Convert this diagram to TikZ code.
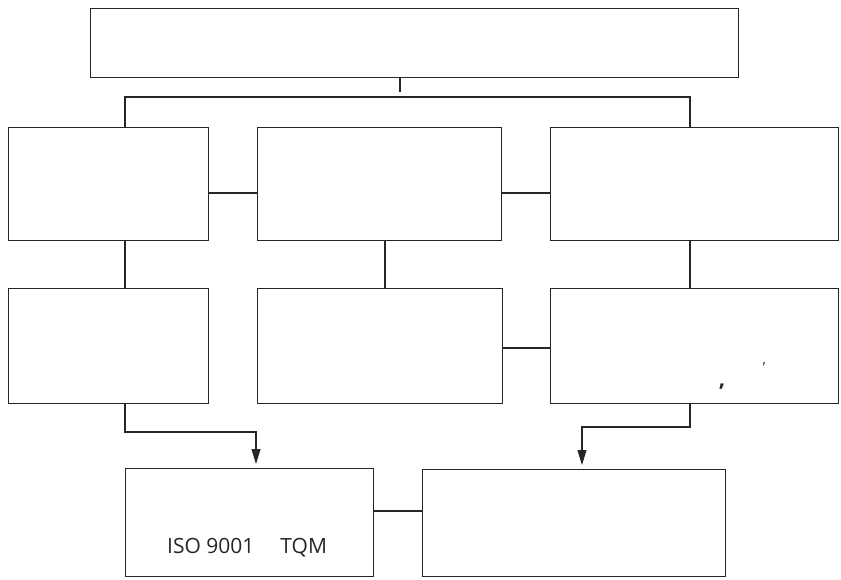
\documentclass[tikz,border=0pt]{standalone}
\usepackage{fontspec}
\setmainfont{Open Sans}
\usetikzlibrary{arrows.meta}
\begin{document}
\begin{tikzpicture}[x=1pt,y=-1pt,
  box/.style={draw=black!85, line width=1.1pt, inner sep=0pt, anchor=north west},
  link/.style={draw=black!85, line width=1.1pt},
  arr/.style={link, -{Triangle[length=15pt,width=9pt]}, shorten >=4pt},
  lbl/.style={inner sep=0pt, font=\fontsize{21}{24}\selectfont, text=black!85}]
\useasboundingbox (0,0) rectangle (841,579);
% top
\node[box, minimum width=648pt, minimum height=69pt] (top) at (90,8) {};
% row 1
\node[box, minimum width=200pt, minimum height=113pt] (a1) at (8,127) {};
\node[box, minimum width=244pt, minimum height=113pt] (a2) at (257,127) {};
\node[box, minimum width=288pt, minimum height=113pt] (a3) at (550,127) {};
% row 2
\node[box, minimum width=200pt, minimum height=115pt] (b1) at (8,288) {};
\node[box, minimum width=245pt, minimum height=115pt] (b2) at (257,288) {};
\node[box, minimum width=288pt, minimum height=115pt] (b3) at (550,288) {};
% row 3
\node[box, minimum width=248pt, minimum height=108pt] (c1) at (125,468) {};
\node[box, minimum width=303pt, minimum height=107pt] (c2) at (422,469) {};
% texts
\node[lbl, anchor=base west] (t1) at (167,553) {ISO 9001\hspace{26pt}TQM};
\node[lbl, anchor=base, font=\fontsize{22}{24}\bfseries] (t2) at (722,386) {,};
\node[lbl, anchor=base, font=\fontsize{14}{16}\selectfont] (t3) at (764,372) {'};
% coordinates
\coordinate (tc) at (400,92);
\coordinate (bl) at (125,97);
\coordinate (br) at (690,97);
\coordinate (h1) at (0,193);
\coordinate (h2) at (0,348);
\coordinate (h3) at (0,511);
\coordinate (vm) at (385,0);
\coordinate (la) at (125,432);
\coordinate (lb) at (256,432);
\coordinate (ra) at (690,427);
\coordinate (rb) at (582,427);
% connectors
\draw[link] (top.south -| tc) -- (tc);
\draw[link] (a1.north -| bl) -- (bl) -- (br) -- (a3.north -| br);
\draw[link] (a1.east |- h1) -- (a2.west |- h1);
\draw[link] (a2.east |- h1) -- (a3.west |- h1);
\draw[link] (a1.south -| bl) -- (b1.north -| bl);
\draw[link] (a2.south -| vm) -- (b2.north -| vm);
\draw[link] (a3.south -| br) -- (b3.north -| br);
\draw[link] (b2.east |- h2) -- (b3.west |- h2);
\draw[arr] (b1.south -| la) -- (la) -- (lb) -- (c1.north -| lb);
\draw[arr] (b3.south -| ra) -- (ra) -- (rb) -- (c2.north -| rb);
\draw[link] (c1.east |- h3) -- (c2.west |- h3);
\end{tikzpicture}
\end{document}
